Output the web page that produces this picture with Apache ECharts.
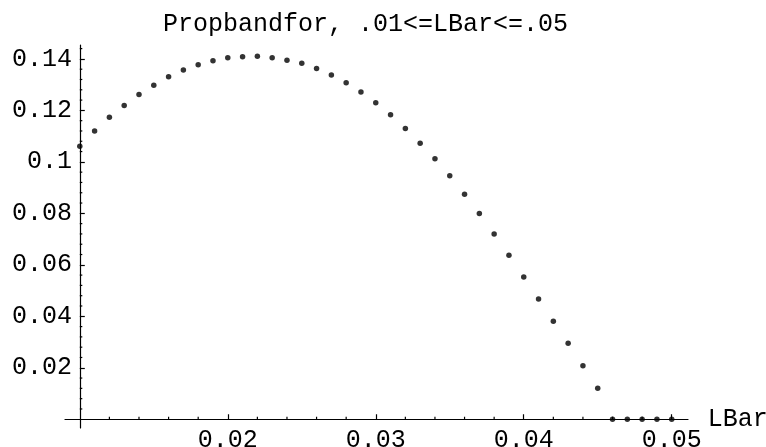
<!DOCTYPE html>
<html>
<head>
<meta charset="utf-8">
<script src="https://cdn.jsdelivr.net/npm/echarts@6/dist/echarts.min.js"></script>
<style>
html,body{margin:0;padding:0;background:#fff;}
#chart{width:766px;height:447px;}
</style>
</head>
<body>
<div id="chart"></div>
<script>
const titleText = 'Propbandfor, .01<=LBar<=.05';
const xName = 'LBar';
const lbar = [0.010,0.011,0.012,0.013,0.014,0.015,0.016,0.017,0.018,0.019,
              0.020,0.021,0.022,0.023,0.024,0.025,0.026,0.027,0.028,0.029,
              0.030,0.031,0.032,0.033,0.034,0.035,0.036,0.037,0.038,0.039,
              0.040,0.041,0.042,0.043,0.044,0.045,0.046,0.047,0.048,0.049,0.050];
const propband = [0.1061,0.1120,0.1173,0.1219,0.1262,0.1298,0.1331,0.1357,0.1377,0.1393,
                  0.1404,0.1408,0.1410,0.1404,0.1395,0.1383,0.1363,0.1337,0.1307,0.1271,
                  0.1230,0.1183,0.1130,0.1072,0.1012,0.0946,0.0874,0.0799,0.0720,0.0637,
                  0.0553,0.0467,0.0381,0.0295,0.0208,0.0120,0,0,0,0,0];
const xTickValues = [0.02,0.03,0.04,0.05];
const xTickLabels = ['0.02','0.03','0.04','0.05'];
const xMinorTicks = [0.012,0.014,0.016,0.018,0.022,0.024,0.026,0.028,0.032,0.034,0.036,0.038,0.042,0.044,0.046,0.048];
const yTickValues = [0.02,0.04,0.06,0.08,0.10,0.12,0.14];
const yTickLabels = ['0.02','0.04','0.06','0.08','0.1','0.12','0.14'];
const yMinorTicks = [0.004,0.008,0.012,0.016,0.024,0.028,0.032,0.036,0.044,0.048,0.052,0.056,
                     0.064,0.068,0.072,0.076,0.084,0.088,0.092,0.096,0.104,0.108,0.112,0.116,
                     0.124,0.128,0.132,0.136,0.144];
const xOrigin = 0.01;
const xRange = [0.0090, 0.0511];
const yRange = [-0.0034, 0.1454];

const font = 'Liberation Mono';
const chart = echarts.init(document.getElementById('chart'));
const lineStyle = {color:'#000', width:1.2};

function minorTickSeries(data, dir){
  return {
    type:'custom', xAxisIndex:0, yAxisIndex:0, clip:false, silent:true, z:3,
    data:data,
    renderItem:function(params, api){
      const p = api.coord([api.value(0), api.value(1)]);
      const len = 2.5;
      return {type:'line',
        shape: dir==='y' ? {x1:p[0], y1:p[1], x2:p[0]+len, y2:p[1]} : {x1:p[0], y1:p[1], x2:p[0], y2:p[1]-len},
        style:{stroke:'#000', lineWidth:1.2}};
    }
  };
}

chart.setOption({
  backgroundColor:'#fff',
  animation:false,
  title:{
    text:titleText, left:163, top:12, padding:0,
    textStyle:{fontFamily:font, fontSize:25, fontWeight:'normal', color:'#000'}
  },
  grid:{left:65, right:78, top:45, bottom:19, containLabel:false, outerBoundsMode:'none'},
  xAxis:[
    {
      type:'value', min:xRange[0], max:xRange[1],
      axisLine:{show:true, onZero:true, onZeroAxisIndex:0, lineStyle:lineStyle},
      axisTick:{show:true, inside:true, length:5, customValues:xTickValues, lineStyle:lineStyle},
      axisLabel:{show:true, margin:0, customValues:xTickValues,
        formatter:function(v){const i=xTickValues.findIndex(t=>Math.abs(t-v)<1e-9);return i>=0?xTickLabels[i]:'';},
        fontFamily:font, fontSize:25, color:'#000'},
      splitLine:{show:false},
      name:xName, nameLocation:'end', nameGap:8,
      nameTextStyle:{fontFamily:font, fontSize:25, color:'#000', verticalAlign:'middle', padding:[6,0,0,0]}
    },
    {
      type:'value', show:false, min:xRange[0]-xOrigin, max:xRange[1]-xOrigin
    }
  ],
  yAxis:[
    {
      type:'value', min:yRange[0], max:yRange[1],
      axisLine:{show:true, onZero:true, onZeroAxisIndex:1, lineStyle:lineStyle},
      axisTick:{show:true, inside:true, length:5, customValues:yTickValues, lineStyle:lineStyle},
      axisLabel:{show:true, margin:-7, customValues:yTickValues,
        formatter:function(v){const i=yTickValues.findIndex(t=>Math.abs(t-v)<1e-9);return i>=0?yTickLabels[i]:'';},
        fontFamily:font, fontSize:25, color:'#000'},
      splitLine:{show:false}
    }
  ],
  series:[
    {
      type:'scatter', xAxisIndex:0, yAxisIndex:0,
      data: lbar.map((x,i)=>[x, propband[i]]),
      symbol:'circle', symbolSize:5.5,
      itemStyle:{color:'#000'},
      clip:false, z:5
    },
    minorTickSeries(yMinorTicks.map(v=>[xOrigin, v]), 'y'),
    minorTickSeries(xMinorTicks.map(v=>[v, 0]), 'x')
  ]
});
</script>
</body>
</html>
